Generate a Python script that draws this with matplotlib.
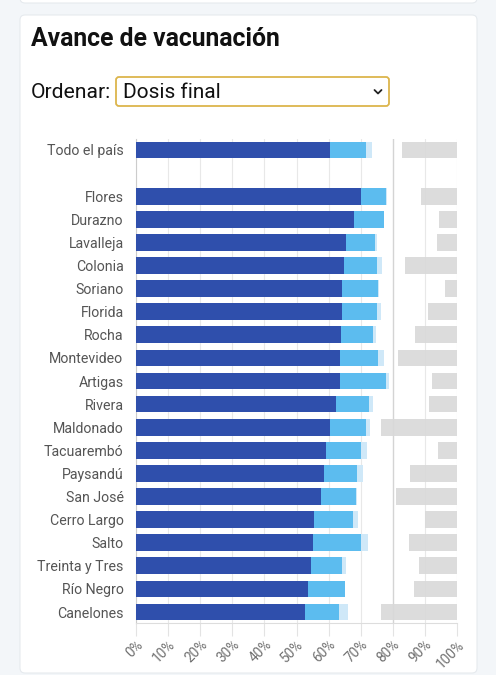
import matplotlib
matplotlib.use("Agg")
import matplotlib.pyplot as plt
from matplotlib.patches import FancyBboxPatch
import numpy as np

plt.rcParams['font.family'] = ['Roboto', 'DejaVu Sans']

labels = ["Todo el país", "Flores", "Durazno", "Lavalleja", "Colonia", "Soriano",
          "Florida", "Rocha", "Montevideo", "Artigas", "Rivera", "Maldonado",
          "Tacuarembó", "Paysandú", "San José", "Cerro Largo", "Salto",
          "Treinta y Tres", "Río Negro", "Canelones"]
dosis_final = [60.4, 70.2, 67.9, 65.3, 64.8, 64.2, 64.1, 63.8, 63.6, 63.6,
               62.2, 60.4, 59.1, 58.6, 57.6, 55.3, 55.2, 54.5, 53.5, 52.6]
primera_dosis = [71.8, 78.0, 77.2, 74.6, 75.0, 75.4, 75.1, 73.7, 75.4, 78.0,
                 72.5, 71.6, 70.1, 68.9, 68.5, 67.5, 70.0, 64.3, 65.0, 63.3]
agendados = [73.6, 78.3, 77.3, 75.1, 76.5, 75.6, 76.2, 74.8, 77.2, 78.8,
             73.9, 73.0, 71.9, 70.6, 69.0, 69.2, 72.3, 65.4, 65.2, 65.9]
gris_desde = [83.0, 88.9, 94.3, 93.8, 83.9, 96.2, 90.9, 86.9, 81.5, 92.3,
              91.4, 76.3, 94.1, 85.5, 81.0, 89.9, 85.2, 88.3, 86.5, 76.3]
ticks = [0, 10, 20, 30, 40, 50, 60, 70, 80, 90, 100]
tick_labels = [f"{t}%" for t in ticks]

W, H = 496, 675
fig = plt.figure(figsize=(W / 100, H / 100), dpi=100)
fig.patch.set_facecolor('#f3f6f9')

# background layer
bg = fig.add_axes([0, 0, 1, 1], zorder=0)
bg.set_xlim(0, W)
bg.set_ylim(H, 0)
bg.axis('off')
bg.add_patch(FancyBboxPatch((20, -30), 457, 33,
                            boxstyle="round,pad=0,rounding_size=5",
                            facecolor='white', edgecolor='#e6eaee', linewidth=0.8))
bg.add_patch(FancyBboxPatch((20, 15), 457, 658,
                            boxstyle="round,pad=0,rounding_size=5",
                            facecolor='white', edgecolor='#e6eaee', linewidth=0.8))
bg.text(31, 39.5, "Avance de vacunación", fontsize=17.8, fontweight='bold',
        color='#111111', va='center', ha='left')
bg.text(31, 92, "Ordenar:", fontsize=15.2, color='#111111', va='center', ha='left')
bg.add_patch(FancyBboxPatch((116, 77), 273, 29,
                            boxstyle="round,pad=0,rounding_size=3",
                            facecolor='white', edgecolor='#dcb54c', linewidth=1.3))
bg.text(123, 92, "Dosis final", fontsize=15, color='#111111', va='center', ha='left')
bg.plot([374.5, 378, 381.5], [90, 93.5, 90], color='#222222', lw=1.3,
        solid_capstyle='round', solid_joinstyle='round')

ax = fig.add_axes([136 / W, 1 - 623 / H, (457 - 136) / W, (623 - 139) / H], zorder=2)
ax.set_facecolor('none')

pos = np.array([0] + list(range(2, 2 + len(labels) - 1)))
h = 0.72

for t in ticks:
    ax.axvline(t, color='#d4d4d4' if t == 80 else '#e8e8e8',
               lw=1.0 if t == 80 else 0.8, zorder=1)

ax.barh(pos, [100 - g for g in gris_desde], left=gris_desde, height=h,
        color='#d9d9d9', alpha=0.9, zorder=2)
ax.barh(pos, agendados, height=h, color='#cfe8f8', zorder=3)
ax.barh(pos, primera_dosis, height=h, color='#5cbcef', zorder=4)
ax.barh(pos, dosis_final, height=h, color='#2f4fac', zorder=5)

ax.set_xlim(0, 100)
ax.set_ylim(20 + 0.476, -0.476)
ax.set_yticks(pos)
ax.set_yticklabels(labels, fontsize=10.2, color='#555555')
ax.set_xticks(ticks)
ax.set_xticklabels(tick_labels, fontsize=9.8, color='#707070', rotation=45,
                   ha='right', va='top', rotation_mode='anchor')
ax.tick_params(axis='y', length=0, pad=9)
ax.tick_params(axis='x', length=9, width=0.8, color='#e3e3e3', pad=1.5)
for s in ['top', 'right']:
    ax.spines[s].set_visible(False)
ax.spines['left'].set_color('#cccccc')
ax.spines['bottom'].set_color('#dddddd')
ax.spines['left'].set_linewidth(0.8)
ax.spines['bottom'].set_linewidth(0.8)

fig.savefig('out.png', dpi=100, facecolor=fig.get_facecolor())
